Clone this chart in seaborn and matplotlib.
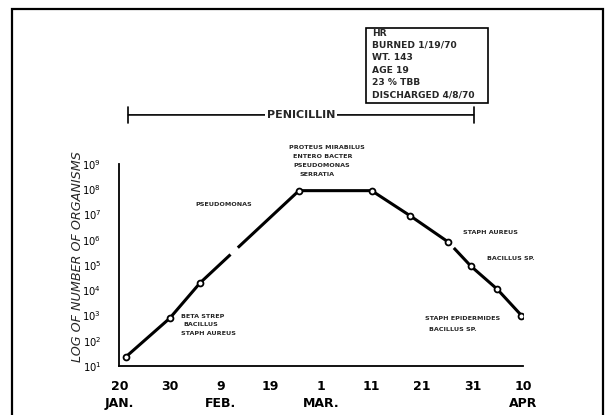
import matplotlib
matplotlib.use("Agg")
import matplotlib.pyplot as plt
import seaborn as sns
import pandas as pd
from matplotlib.patches import Rectangle
from matplotlib.ticker import NullLocator, FixedLocator

# ---------------- data ----------------
# days after 20 January 1970
days = [1.3, 10, 16, 35.6, 50, 57.6, 65.2, 69.7, 74.9, 79.7]
organisms = [23, 780, 1.95e4, 8.8e7, 8.8e7, 9.0e6, 8.1e5, 8.9e4, 1.1e4, 1.0e3]

tick_days = [0, 10, 20, 30, 40, 50, 60, 70, 80]
tick_labels = ["20\nJAN.", "30", "9\nFEB.", "19", "1\nMAR.", "11", "21", "31", "10\nAPR"]
y_exponents = [1, 2, 3, 4, 5, 6, 7, 8, 9]

penicillin_start = 1.8
penicillin_end = 70.2
penicillin_label = "PENICILLIN"

patient_info = ["HR", "BURNED 1/19/70", "WT. 143", "AGE 19", "23 % TBB",
                "DISCHARGED 4/8/70"]

organism_notes = ["PSEUDOMONAS",
                  "PROTEUS MIRABILUS", "ENTERO BACTER", "PSEUDOMONAS", "SERRATIA",
                  "BETA STREP", "BACILLUS", "STAPH AUREUS",
                  "STAPH AUREUS", "BACILLUS SP.",
                  "STAPH EPIDERMIDES", "BACILLUS SP."]

y_label = "LOG OF NUMBER OF ORGANISMS"

# ---------------- layout ----------------
W, H = 609, 415
note_pos = [(195, 205),
            (289, 147), (293, 156), (293, 165), (299, 174),
            (181, 316), (183, 324), (181, 333),
            (463, 232), (487, 258),
            (425, 319), (429, 329)]
info_left, info_top, info_step = 372, 33, 12.4

sns.set_style("white")
plt.rcParams["font.family"] = ["DejaVu Sans"]
plt.rcParams["lines.scale_dashes"] = False
plt.rcParams["mathtext.default"] = "regular"

fig = plt.figure(figsize=(W / 100, H / 100), dpi=100)
ax = fig.add_axes([119.3 / W, 1 - 366 / H, (523 - 119.3) / W, (366 - 164) / H])
ax.set_facecolor("white")

df = pd.DataFrame({"day": days, "organisms": organisms})

segments = [((0, 2), "-"),
            ((2, 3), (0, (30, 7.2, 1000, 0))),
            ((3, 6), "-"),
            ((6, 7), (1000, (1000, 5.8))),
            ((7, 9), "-")]
for (a, b), ls in segments:
    sns.lineplot(data=df.iloc[a:b + 1], x="day", y="organisms", color="black",
                 linewidth=2.2, estimator=None, sort=False, ax=ax)
    ax.lines[-1].set_linestyle(ls)

sns.scatterplot(data=df, x="day", y="organisms", marker="o", s=18,
                facecolor="white", edgecolor="black", linewidth=1.3,
                zorder=4, ax=ax)

ax.set_yscale("log")
ax.set_ylim(10, 1e9)
ax.set_xlim(0, 80)
ax.yaxis.set_major_locator(FixedLocator([10.0 ** e for e in y_exponents]))
ax.yaxis.set_minor_locator(NullLocator())
ax.set_yticklabels([f"$10^{{{e}}}$" for e in y_exponents])
ax.set_xticks(tick_days)
ax.set_xticklabels(tick_labels, linespacing=1.45)

for sp in ["top", "right"]:
    ax.spines[sp].set_visible(False)
for sp in ["left", "bottom"]:
    ax.spines[sp].set_linewidth(1.3)
    ax.spines[sp].set_color("black")

ax.tick_params(axis="both", direction="in", length=4, width=1.2, colors="black")
ax.tick_params(axis="y", pad=13, labelsize=7.2)
ax.tick_params(axis="x", pad=10, labelsize=9)
for t in ax.get_xticklabels():
    t.set_fontweight("bold")

ax.set_xlabel("")
ax.set_ylabel(y_label, fontsize=9.2, fontstyle="italic")
ax.yaxis.set_label_coords(-0.088, 0.54)

# penicillin bar
ax.annotate("", xy=(penicillin_start, 1.243), xytext=(penicillin_end, 1.243),
            xycoords=("data", "axes fraction"), textcoords=("data", "axes fraction"),
            arrowprops=dict(arrowstyle="|-|", mutation_scale=6, lw=1.2,
                            color="black", shrinkA=0, shrinkB=0),
            annotation_clip=False)
ax.text((penicillin_start + penicillin_end) / 2, 1.243, penicillin_label,
        transform=ax.get_xaxis_transform(), ha="center", va="center",
        fontsize=8, fontweight="bold",
        bbox=dict(facecolor="white", edgecolor="none", pad=1.5), clip_on=False)

# organism notes
for txt, (x, y) in zip(organism_notes, note_pos):
    fig.text(x / W, 1 - y / H, txt, ha="left", va="center", fontsize=4.6,
             fontweight="bold")

# patient info box
fig.add_artist(Rectangle((366 / W, 1 - 103 / H), (488 - 366) / W, (103 - 28) / H,
                         transform=fig.transFigure, fill=False, lw=1.2,
                         ec="black"))
for i, line in enumerate(patient_info):
    fig.text(info_left / W, 1 - (info_top + i * info_step) / H, line,
             ha="left", va="center", fontsize=6.6, fontweight="bold")

# outer frame
fig.add_artist(Rectangle((12 / W, -0.05), (603 - 12) / W, 1 - 9 / H + 0.05,
                         transform=fig.transFigure, fill=False, lw=1.6,
                         ec="black"))

fig.savefig("out.png", dpi=100, facecolor="white")
